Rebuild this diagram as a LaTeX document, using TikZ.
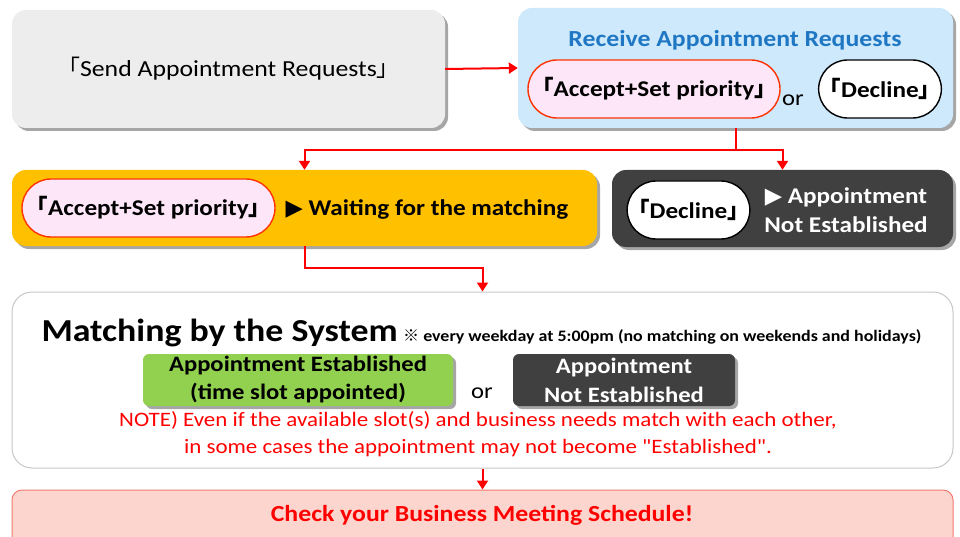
\documentclass[tikz,border=0pt]{standalone}
\usepackage{fontspec}
\setmainfont{Carlito}[FakeStretch=1.12]
\newfontfamily\plainq{Carlito}[FakeStretch=1.12, Ligatures=TeXOff]
\newfontfamily\cjk{Noto Sans CJK JP}
\newfontfamily\sym{DejaVu Sans}
\usetikzlibrary{arrows.meta,shadows}
\definecolor{linkred}{HTML}{FF0000}
\definecolor{sendgray}{HTML}{EDEDED}
\definecolor{recvblue}{HTML}{CDE9FB}
\definecolor{titleblue}{HTML}{1F77C4}
\definecolor{pillpink}{HTML}{FCE6F8}
\definecolor{pilledge}{HTML}{FF3300}
\definecolor{waitgold}{HTML}{FFC000}
\definecolor{darkgray}{HTML}{404040}
\definecolor{okgreen}{HTML}{92D050}
\definecolor{checkpink}{HTML}{FCD6CE}
\definecolor{checkedge}{HTML}{F4796E}
\newcommand{\kakko}[1]{{\cjk 「}#1{\cjk 」}}
\newcommand{\play}{{\sym\char"25B6}}
\newcommand{\dq}{{\plainq\char"22}}
\tikzset{
  panel/.style={rounded corners=14pt, inner sep=0pt,
    drop shadow={shadow xshift=3pt, shadow yshift=-3pt, fill=black, opacity=0.35}},
  pill/.style={rounded corners=29pt, line width=1.4pt, inner sep=0pt,
    font=\fontsize{22.5}{24}\selectfont\bfseries},
  flow/.style={draw=linkred, line width=2pt, -{Triangle[width=11pt,length=9pt]}},
  big/.style={font=\fontsize{22.5}{29}\selectfont\bfseries, align=center},
}
\begin{document}
\begin{tikzpicture}[x=1pt, y=-1pt]
\useasboundingbox (0,0) rectangle (960,537);

% top row
\node[panel, fill=sendgray, minimum width=433pt, minimum height=118pt,
  font=\fontsize{23}{25}\selectfont] (send) at (228.5,69) {\kakko{Send Appointment Requests}};
\node[panel, fill=recvblue, minimum width=435pt, minimum height=120pt] (recv) at (735.5,68) {};
\node[font=\fontsize{23}{25}\selectfont\bfseries, text=titleblue] (recvtitle) at (735,40) {Receive Appointment Requests};
\node[pill, draw=pilledge, fill=pillpink, minimum width=252pt, minimum height=58pt] (accept) at (654,89) {\kakko{Accept+Set priority}};
\node[font=\fontsize{22}{24}\selectfont] (or1) at (793,100) {or};
\node[pill, draw=black, fill=white, minimum width=116pt, minimum height=58pt] (decline) at (880,89) {\kakko{Decline}};

% middle row
\node[panel, fill=waitgold, minimum width=585pt, minimum height=76pt] (wait) at (304.5,208) {};
\node[pill, draw=pilledge, fill=pillpink, minimum width=253pt, minimum height=58pt] (accept2) at (148.5,208) {\kakko{Accept+Set priority}};
\node[big, anchor=west] (waittext) at (282,209) {\play\ Waiting for the matching};
\node[panel, fill=darkgray, minimum width=341pt, minimum height=77pt] (notest) at (782.5,208.5) {};
\node[pill, draw=black, fill=white, minimum width=113pt, minimum height=58pt] (decline2) at (688.5,210) {\kakko{Decline}};
\node[big, text=white] (notesttext) at (846,210) {\play\ Appointment\\Not Established};

% matching
\node[rounded corners=20pt, draw=black!22, line width=1pt, fill=white,
  minimum width=941pt, minimum height=176pt] (match) at (482.5,380) {};
\node[anchor=base west, font=\fontsize{32}{34}\selectfont\bfseries] (matchtitle) at (38,341) {Matching by the System};
\node[anchor=base west, font=\fontsize{16}{18}\selectfont\bfseries, inner sep=0pt] (matchtime) at (403,341) {{\cjk ※} every weekday at 5:00pm (no matching on weekends and holidays)};
\node[panel, rounded corners=6pt, fill=okgreen, minimum width=310pt, minimum height=52pt, big, font=\fontsize{22}{28}\selectfont\bfseries] (estab) at (298,380) {Appointment Established\\(time slot appointed)};
\node[font=\fontsize{22}{24}\selectfont] (or2) at (482,393) {or};
\node[panel, rounded corners=6pt, fill=darkgray, minimum width=222pt, minimum height=52pt, big, font=\fontsize{22}{29}\selectfont\bfseries, text=white] (notest2) at (624,380) {Appointment\\Not Established};
\node[align=center, text=linkred, font=\fontsize{20.5}{27}\selectfont] (notice) at (478,434) {NOTE) Even if the available slot(s) and business needs match with each other,\\in some cases the appointment may not become \dq Established\dq.};

% bottom
\node[rounded corners=10pt, draw=checkedge, line width=1pt, fill=checkpink,
  minimum width=941pt, minimum height=60pt] (check) at (482.5,520) {};
\node[font=\fontsize{23}{25}\selectfont\bfseries, text=linkred] (checktext) at (482,515) {Check your Business Meeting Schedule!};

% connectors
\draw[flow] (send.east) -- (recv.west);
\coordinate (split) at ([yshift=-22pt]recv.south);
\draw[flow] (recv.south) -- (split) -| (wait.north);
\draw[flow] (split) -| (notest.north);
\draw[flow] (wait.south) -- ++(0,22) -| (match.north);
\draw[flow] (match.south) -- (check.north);
\end{tikzpicture}
\end{document}
